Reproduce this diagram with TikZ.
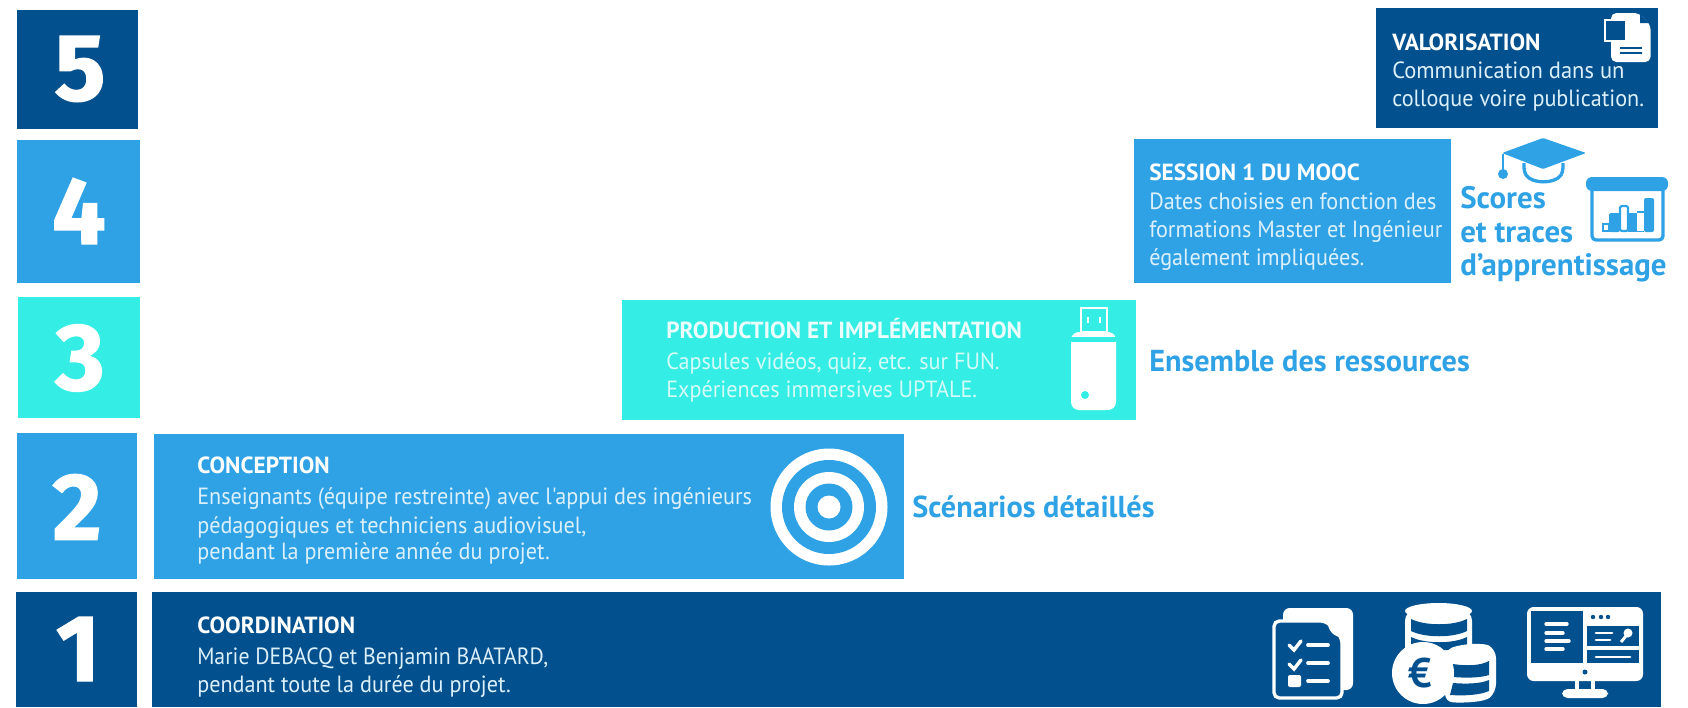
\documentclass[tikz,border=0pt]{standalone}
\usepackage{fontspec}
\setmainfont{PT Sans}
\newfontfamily\digitfont[FakeBold=1.5]{Fira Sans}
\newfontfamily\bodyfont[FakeStretch=0.945]{PT Sans}
\newfontfamily\bodyfontnarrow[FakeStretch=0.928]{PT Sans}
\newfontfamily\bodyfontwide[FakeStretch=0.96]{PT Sans}
\definecolor{navy}{HTML}{03508E}
\definecolor{sky}{HTML}{2FA2E6}
\definecolor{teal}{HTML}{34EEE5}
\definecolor{paleblue}{HTML}{DCF0FB}
\definecolor{paleteal}{HTML}{D4FAF8}
\tikzset{
 digit/.style={text=white,font=\digitfont\bfseries\fontsize{71}{71}\selectfont,anchor=center,inner sep=0pt},
 head/.style={anchor=base west,inner sep=0pt,font=\bfseries\fontsize{17.5}{21}\selectfont,text=white},
 body/.style={anchor=base west,inner sep=0pt,align=left,font=\bodyfont\fontsize{17.6}{21}\selectfont},
 big/.style={anchor=base west,inner sep=0pt,align=left,font=\bfseries\fontsize{22.7}{25}\selectfont,text=sky},
}
\begin{document}
\begin{tikzpicture}[x=0.75pt,y=-0.75pt]
\useasboundingbox (0,0) rectangle (1688,707);
% number squares
\fill[navy] (17,10) rectangle (138,129);
\fill[sky] (17,140) rectangle (140,283);
\fill[teal] (18,297) rectangle (140,418);
\fill[sky] (17,433) rectangle (137,579);
\fill[navy] (16,592) rectangle (137,707);
\node[digit] (n5) at (80,69) {5};
\node[digit] (n4) at (79,211) {4};
\node[digit] (n3) at (80,358) {3};
\node[digit] (n2) at (77,507) {2};
\node[digit] (n1) at (78,649) {1};
% bars
\fill[navy] (1376,8) rectangle (1658,128);
\fill[sky] (1134,139) rectangle (1451,283);
\fill[teal] (622,300) rectangle (1136,420);
\fill[sky] (154,434) rectangle (904,579);
\fill[navy] (152,592) rectangle (1661,707);
% texts
\node[head] (t5) at (1392,50) {VALORISATION};
\node[body,text=paleblue,font=\bodyfontwide\fontsize{17.6}{21}\selectfont] (b5a) at (1392,78) {Communication dans un};
\node[body,text=paleblue] (b5b) at (1392,106) {colloque voire publication.};
\node[head] (t4) at (1149,180) {SESSION 1 DU MOOC};
\node[body,text=paleblue] (b4a) at (1149,209) {Dates choisies en fonction des};
\node[body,text=paleblue] (b4b) at (1149,237) {formations Master et Ingénieur};
\node[body,text=paleblue] (b4c) at (1149,265) {également impliquées.};
\node[head,text=paleteal!50!white] (t3) at (666,338) {PRODUCTION ET IMPLÉMENTATION};
\node[body,text=paleteal] (b3a) at (666,369) {Capsules vidéos, quiz, etc. sur FUN.};
\node[body,text=paleteal] (b3b) at (666,397) {Expériences immersives UPTALE.};
\node[head] (t2) at (197,473) {CONCEPTION};
\node[body,text=paleblue] (b2a) at (197,504) {Enseignants (équipe restreinte) avec l\symbol{39}appui des ingénieurs};
\node[body,text=paleblue] (b2b) at (197,533) {pédagogiques et techniciens audiovisuel,};
\node[body,text=paleblue] (b2c) at (197,559) {pendant la première année du projet.};
\node[head] (t1) at (197,633) {COORDINATION};
\node[body,text=paleblue,font=\bodyfontnarrow\fontsize{17.6}{21}\selectfont] (b1a) at (197,664) {Marie DEBACQ et Benjamin BAATARD,};
\node[body,text=paleblue] (b1b) at (197,692) {pendant toute la durée du projet.};
\node[big,font=\bfseries\fontsize{23.2}{25}\selectfont] (o4a) at (1460,208) {Scores};
\node[big,font=\bfseries\fontsize{23.2}{25}\selectfont] (o4b) at (1460,242) {et traces};
\node[big,font=\bfseries\fontsize{23.2}{25}\selectfont] (o4c) at (1460,275) {d\symbol{39}apprentissage};
\node[big] (o3) at (1149,371) {Ensemble des ressources};
\node[big] (o2) at (912,517) {Scénarios détaillés};
% doc icon
\fill[white,rounded corners=4pt] (1611,13) -- (1639,13) -- (1650.6,25) -- (1650.6,62) -- (1611,62) -- cycle;
\fill[navy] (1640,14) -- (1640,23) -- (1649,23) -- cycle;
\draw[white,line width=1.2pt,fill=navy] (1605,20) rectangle (1626,41);
\draw[navy,line width=0.9pt] (1620,48) -- (1642,48) (1620,53) -- (1642,53);
% hat
\fill[sky,rounded corners=1pt] (1543,138) -- (1586,153) -- (1543,169) -- (1502,153) -- cycle;
\draw[sky,line width=1.8pt] (1503,154) -- (1503,172);
\fill[sky] (1503,174) circle[radius=5];
\draw[sky,line width=2.5pt,rounded corners=3pt] (1524,163) -- (1524,172) .. controls (1532,184) and (1555,184) .. (1563,172) -- (1563,163);
% chart
\fill[sky,rounded corners=4.5pt] (1586,177) rectangle (1668,191);
\draw[sky,line width=2.5pt,rounded corners=3pt] (1592,189) -- (1592,240) -- (1663,240) -- (1663,189);
\draw[sky,line width=1.6pt] (1603,224) rectangle (1609,231);
\fill[sky,rounded corners=1.5pt] (1609,213) rectangle (1620,232);
\draw[sky,line width=1.6pt,rounded corners=1.5pt] (1620,206) rectangle (1628,231);
\fill[sky] (1628,213) rectangle (1637,232);
\draw[sky,line width=1.2pt] (1637,212) -- (1644,212);
\fill[sky,rounded corners=1.5pt] (1644,198) rectangle (1654,232);
\draw[sky,line width=1.2pt] (1637,231.5) -- (1644,231.5);
% usb
\draw[white,line width=2.2pt] (1081,308) rectangle (1107,332);
\draw[white,line width=2pt] (1088,317) -- (1088,323) (1100,317) -- (1100,323);
\fill[white,rounded corners=6pt] (1071,332) -- (1116,332) -- (1116,410) -- (1071,410) -- cycle;
\fill[teal] (1071,337) rectangle (1116,342);
\fill[teal] (1085,395) circle[radius=4];
% target
\fill[white] (829,507) circle[radius=58.5];
\fill[sky] (829,507) circle[radius=47];
\fill[white] (829,507) circle[radius=35];
\fill[sky] (829,507) circle[radius=23.5];
\fill[white] (829,507) circle[radius=11.5];
% checklist
\fill[white,rounded corners=5pt] (1283,608) rectangle (1353,690);
\draw[white,line width=2.5pt,fill=navy,rounded corners=4pt] (1274,621) -- (1326,621) -- (1342,638) -- (1342,698) -- (1274,698) -- cycle;
\fill[white] (1327,621) .. controls (1329,632) and (1333,636) .. (1343,638) -- (1343,621) -- cycle;
\draw[white,line width=2.6pt,line cap=round] (1289,645) -- (1294,650) -- (1301,641);
\draw[white,line width=2.6pt,line cap=round] (1289,664) -- (1294,669) -- (1301,660);
\draw[white,line width=2.8pt,line cap=round] (1308,645) -- (1328,645) (1308,663) -- (1328,663) (1308,681) -- (1328,681);
\fill[white,rounded corners=1.5pt] (1288,675) rectangle (1301,687);
% coins
\fill[white,rounded corners=8pt] (1405,610) rectangle (1472,660);
\fill[white] (1438.5,611) ellipse[x radius=33.5,y radius=8];
\fill[navy] (1411,619) .. controls (1425,626) and (1453,626) .. (1467,619) -- (1467,631) .. controls (1453,638) and (1425,638) .. (1411,631) -- cycle;
\fill[navy] (1411,637) .. controls (1425,644) and (1453,644) .. (1467,637) -- (1467,650) -- (1411,650) -- cycle;
\fill[white,rounded corners=6pt] (1445,650) .. controls (1465,643) and (1485,643) .. (1496,650) -- (1496,692) .. controls (1485,702) and (1465,703) .. (1445,702) -- cycle;
\fill[navy] (1453,664) .. controls (1465,666) and (1480,666) .. (1489,661) -- (1489,675) .. controls (1480,678) and (1465,678) .. (1453,677) -- cycle;
\fill[navy] (1453,683) .. controls (1465,684) and (1480,684) .. (1489,680) -- (1489,691) .. controls (1480,695) and (1465,696) .. (1450,695) -- cycle;
\fill[white] (1423,673) circle[radius=31];
\node[text=navy,inner sep=0pt,font=\bfseries\fontsize{31}{31}\selectfont] (euro) at (1420,673) {€};
% computer
\fill[white,rounded corners=5pt] (1527,607) rectangle (1643,681);
\fill[navy] (1531,611) rectangle (1583,663);
\fill[navy] (1587,626) rectangle (1639,646);
\fill[navy] (1587,650) rectangle (1639,663);
\fill[navy] (1593,617) circle[radius=2.2] (1601,617) circle[radius=2.2] (1608,617) circle[radius=2.2];
\draw[white,line width=2.5pt,line cap=round] (1546,624) -- (1567,624) (1546,633) -- (1563,633) (1546,641) -- (1569,641) (1546,649) -- (1563,649);
\draw[white,line width=2.2pt,line cap=round] (1596,633) -- (1612,633) (1596,640) -- (1610,640) (1596,657) -- (1630,657);
\fill[white] (1628,633) circle[radius=4.5];
\draw[white,line width=2.2pt] (1621,642) -- (1626,636);
\fill[navy] (1585,672) circle[radius=2.5];
\draw[white,line width=3pt] (1577,680) -- (1577,691) (1593,680) -- (1593,691);
\fill[white,rounded corners=4pt] (1562,689) rectangle (1608,698);
\end{tikzpicture}
\end{document}
